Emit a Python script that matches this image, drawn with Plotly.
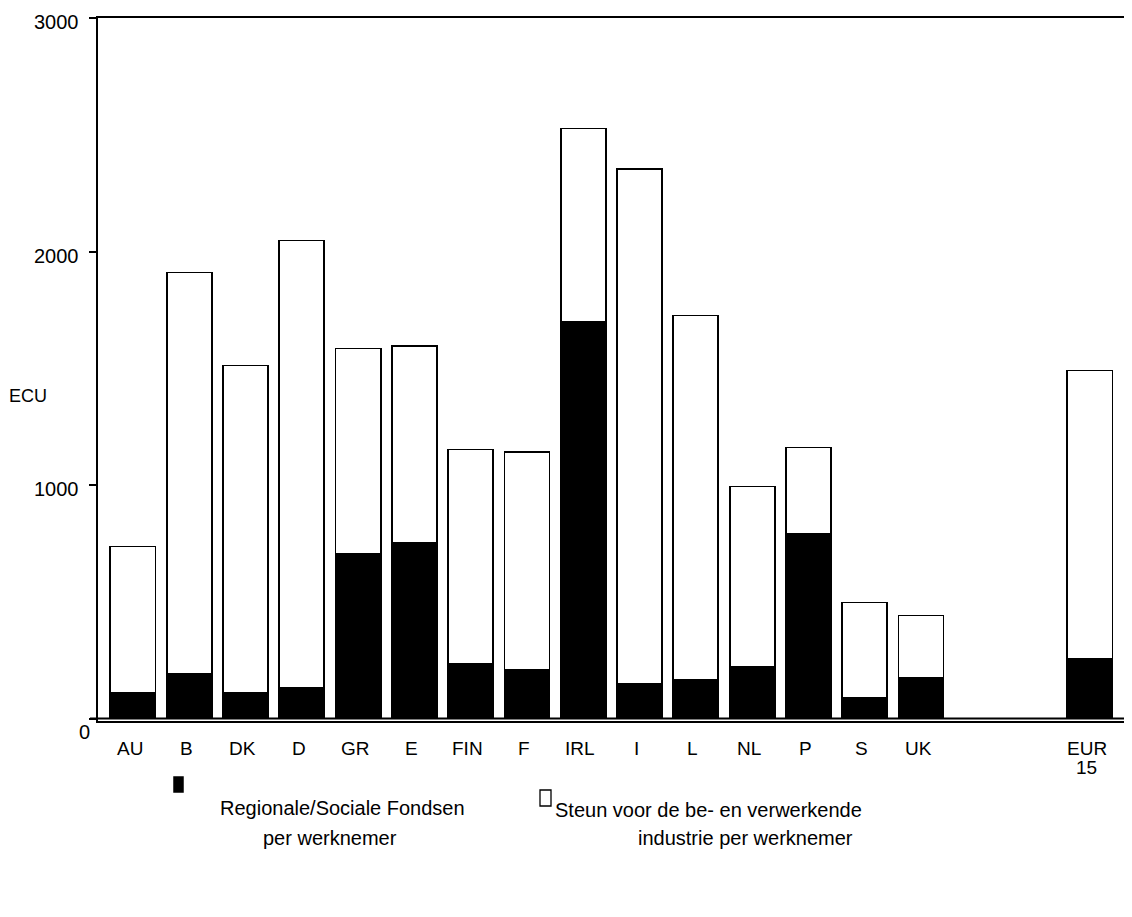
import plotly.graph_objects as go

# ---- data ----
categories = ["AU", "B", "DK", "D", "GR", "E", "FIN", "F", "IRL", "I", "L",
              "NL", "P", "S", "UK", " ", "  ", "EUR<br>15"]
regionaal = [111, 193, 111, 133, 707, 754, 236, 210, 1700, 150, 167,
             223, 792, 90, 176, None, None, 257]
steun = [626, 1717, 1401, 1914, 878, 843, 916, 933, 827, 2205, 1559,
         771, 369, 407, 265, None, None, 1233]
y_ticks = [0, 1000, 2000, 3000]
y_tick_labels = ["0", "1000", "2000", "3000"]
series_names = ["Regionale/Sociale Fondsen<br>per werknemer",
                "Steun voor de be- en verwerkende<br>industrie per werknemer"]

W, H = 1132, 917
L, R, T, B = 90, 0, 10, 204
PW, PH = W - L - R, H - T - B
FONT = "Liberation Sans, Arial, sans-serif"
SLOT_LEFT, SLOT_RIGHT = -0.62, 17.89


def px_x(p):
    return (p - L) / PW


def px_y(p):
    return (H - B - p) / PH


fig = go.Figure()
fig.add_trace(go.Bar(x=categories, y=regionaal, name=series_names[0],
                     marker=dict(color="black", line=dict(color="black", width=1.8))))
fig.add_trace(go.Bar(x=categories, y=steun, name=series_names[1],
                     marker=dict(color="white", line=dict(color="black", width=1.8))))

annotations = []
# y tick labels (sit a little below their ticks, as in the reference)
for v, t in zip(y_ticks, y_tick_labels):
    annotations.append(dict(xref="paper", yref="y", x=0, y=v, text=t,
                            showarrow=False, xanchor="right", yanchor="middle",
                            xshift=-6 if v == 0 else -17,
                            yshift=-13 if v == 0 else -4,
                            font=dict(family=FONT, size=20, color="black")))
# x category labels
for c in categories:
    if not c.strip():
        continue
    for i, line in enumerate(c.split("<br>")):
        annotations.append(dict(xref="x", yref="paper", x=c, y=0, text=line,
                                showarrow=False, xanchor="center", yanchor="middle",
                                xshift=-3, yshift=-27 - 19 * i,
                                font=dict(family=FONT, size=19, color="black")))
annotations.append(dict(xref="paper", yref="paper", x=0, y=px_y(388), text="ECU",
                        showarrow=False, xanchor="center", yanchor="middle",
                        xshift=20 - L, font=dict(family=FONT, size=18, color="black")))
# legend texts
lines1 = series_names[0].split("<br>")
lines2 = series_names[1].split("<br>")
LEG = dict(family=FONT, size=20, color="black")
annotations += [
    dict(xref="paper", yref="paper", x=px_x(210), y=px_y(800), text=lines1[0],
         showarrow=False, xanchor="left", yanchor="middle", font=LEG),
    dict(xref="paper", yref="paper", x=px_x(322), y=px_y(830), text=lines1[1],
         showarrow=False, xanchor="center", yanchor="middle", font=LEG),
    dict(xref="paper", yref="paper", x=px_x(545), y=px_y(802), text=lines2[0],
         showarrow=False, xanchor="left", yanchor="middle", font=LEG),
    dict(xref="paper", yref="paper", x=px_x(737), y=px_y(830), text=lines2[1],
         showarrow=False, xanchor="center", yanchor="middle", font=LEG),
]

shapes = [
    # zero line extending slightly left of the axis
    dict(type="line", xref="paper", yref="y", x0=px_x(82), x1=1, y0=0, y1=0,
         line=dict(color="black", width=1.8)),
    # legend swatches
    dict(type="rect", xref="paper", yref="paper", x0=px_x(166), x1=px_x(175),
         y0=px_y(784), y1=px_y(769), fillcolor="black", line=dict(color="black", width=1.5)),
    dict(type="rect", xref="paper", yref="paper", x0=px_x(532), x1=px_x(543),
         y0=px_y(798), y1=px_y(782), fillcolor="white", line=dict(color="black", width=1.3)),
]

fig.update_layout(
    width=W, height=H,
    margin=dict(l=L, r=R, t=T, b=B, pad=0),
    paper_bgcolor="white", plot_bgcolor="white",
    barmode="stack", bargap=0.2,
    showlegend=False,
    font=dict(family=FONT, color="black"),
    annotations=annotations,
    shapes=shapes,
    xaxis=dict(type="category", categoryorder="array", categoryarray=categories,
               range=[SLOT_LEFT, SLOT_RIGHT],
               showline=True, linecolor="black", linewidth=1.8, mirror=True,
               ticks="", showticklabels=False, showgrid=False, zeroline=False),
    yaxis=dict(range=[-10.7, 3000], tickvals=y_ticks, showticklabels=False,
               ticks="outside", ticklen=7, tickwidth=1.5, tickcolor="black",
               showline=True, linecolor="black", linewidth=1.8,
               showgrid=False, zeroline=False),
)

fig.write_html("out.html")
